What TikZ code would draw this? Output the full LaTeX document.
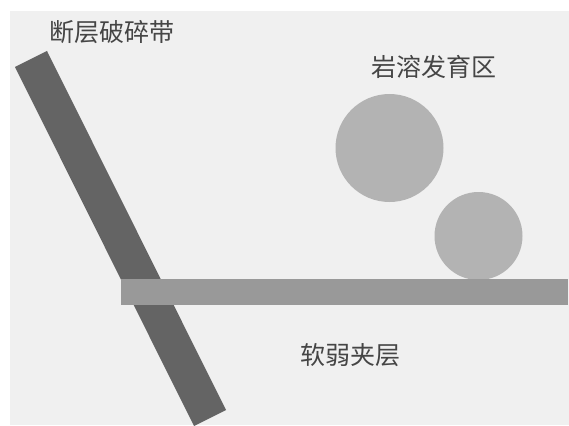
\documentclass[tikz,border=0pt]{standalone}
\usepackage{fontspec}
\newfontfamily\cjk{Noto Sans CJK SC}
\definecolor{bg}{HTML}{F0F0F0}
\definecolor{fault}{HTML}{646464}
\definecolor{layer}{HTML}{999999}
\definecolor{karst}{HTML}{B3B3B3}
\definecolor{txt}{HTML}{454545}
\tikzset{
  lbl/.style={font=\cjk\fontsize{25}{29}\selectfont, text=txt, inner sep=0pt},
  cave/.style={fill=karst, draw=none}
}
\begin{document}
\begin{tikzpicture}[x=1pt,y=-1pt]
\useasboundingbox (0,0) rectangle (569,425);
\fill[white] (0,0) rectangle (569,425);
\fill[bg] (10,11) rectangle (569,425);
% fault zone band
\fill[fault] (15,67) -- (47,51) -- (226,410) -- (194,426) -- cycle;
% karst caves
\fill[cave] (389.5,148) circle (54);
\fill[cave] (478.5,236) circle (44);
% weak interlayer
\fill[layer] (121,279) rectangle (568,305);
% labels
\node[lbl] (f) at (111.5,32) {断层破碎带};
\node[lbl] (k) at (433.5,67) {岩溶发育区};
\node[lbl] (w) at (350.5,355) {软弱夹层};
\end{tikzpicture}
\end{document}
